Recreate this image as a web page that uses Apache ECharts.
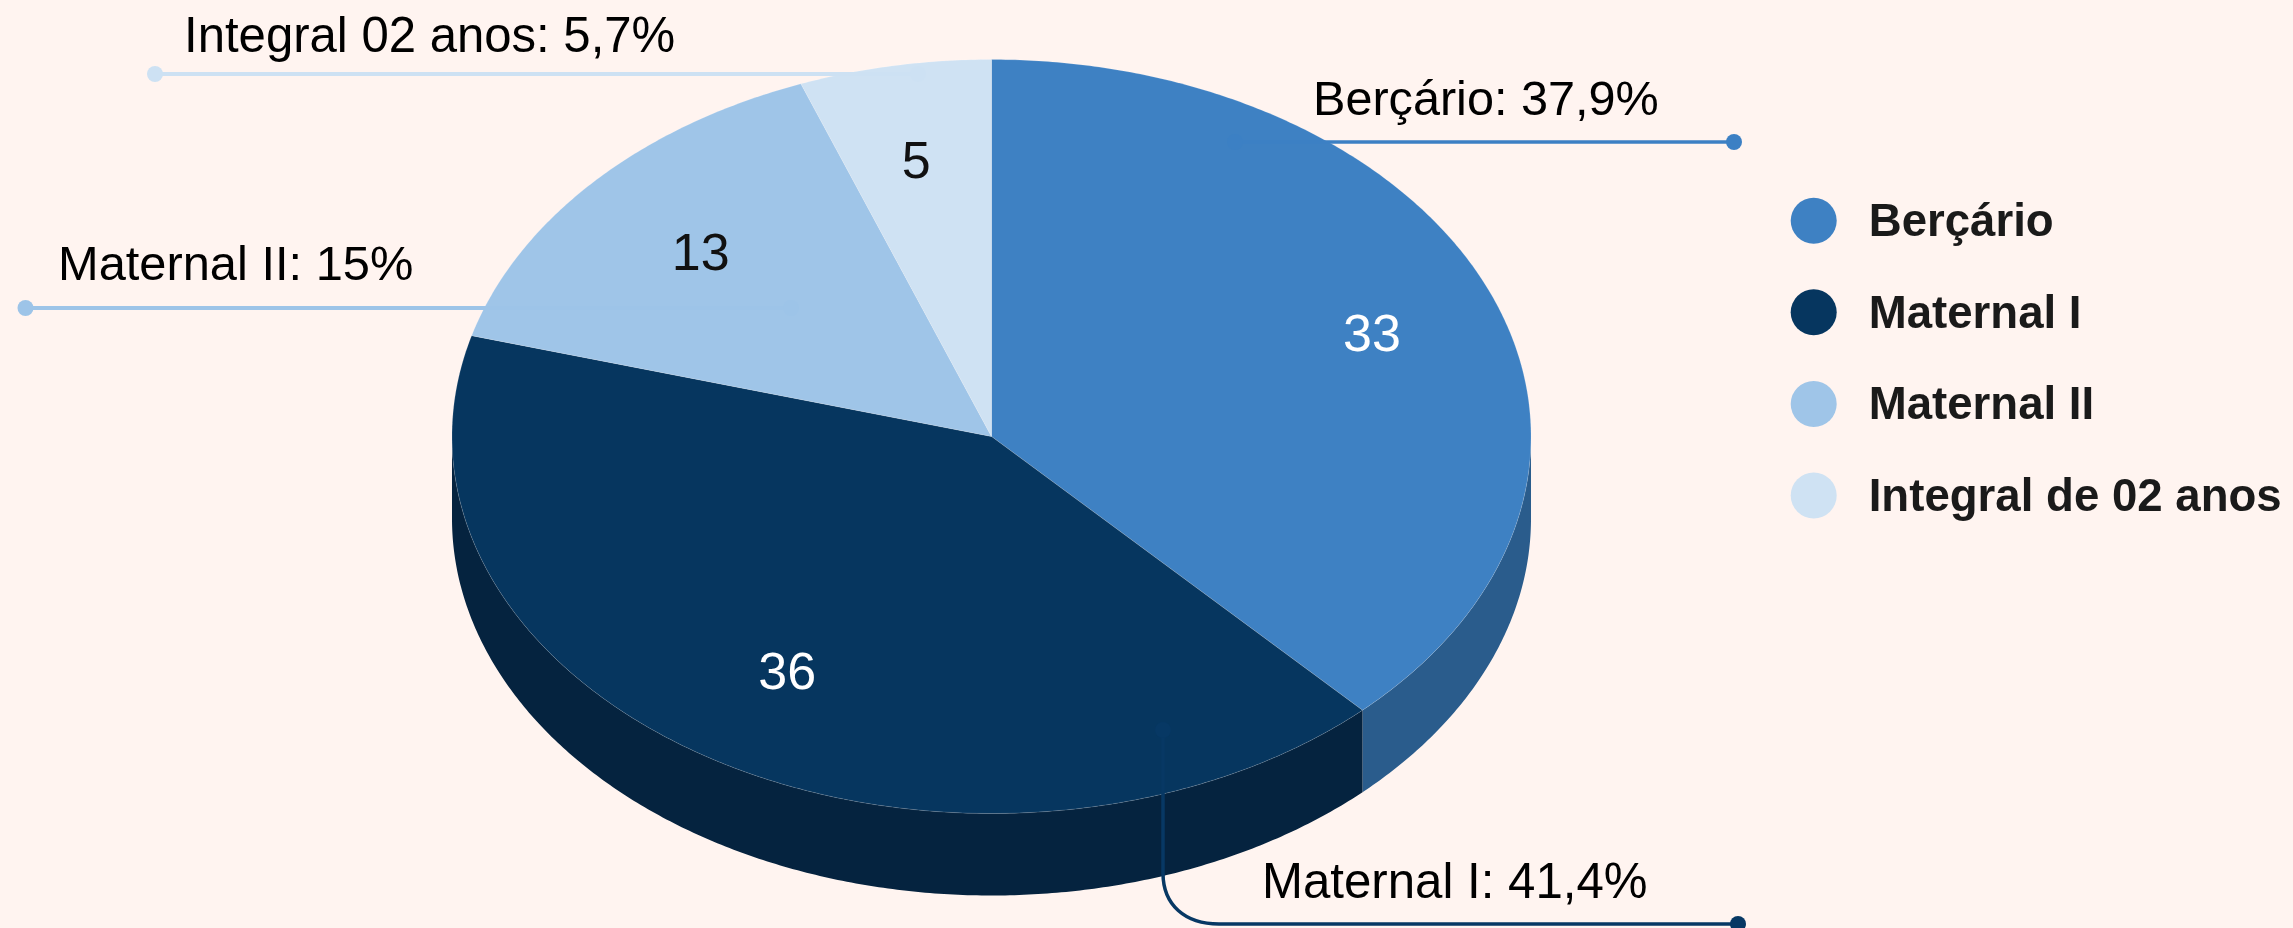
<!DOCTYPE html>
<html>
<head>
<meta charset="utf-8">
<style>
html, body { margin: 0; padding: 0; background: #fff4f0; }
#chart { width: 2293px; height: 928px; }
</style>
<script src="https://cdn.jsdelivr.net/npm/echarts@6/dist/echarts.min.js"></script>
</head>
<body>
<div id="chart"></div>
<script>
// dados
var categories = ['Berçário', 'Maternal I', 'Maternal II', 'Integral de 02 anos'];
var values = [33, 36, 13, 5];
var calloutNames = ['Berçário', 'Maternal I', 'Maternal II', 'Integral 02 anos'];
var calloutPercents = ['37,9%', '41,4%', '15%', '5,7%'];

// cores
var topColors = ['#3e81c3', '#06365f', '#9fc5e8', '#cfe2f3'];
var wallColors = ['#2a5c8c', '#05233f', '#6f8ba2', '#909eaa'];
var lineColors = ['#3c80c4', '#073864', '#9dc4e8', '#cde1f3'];
var valueColors = ['#ffffff', '#ffffff', '#111111', '#111111'];

// geometria da pizza
var cx = 991.5, cy = 436.5, rx = 539.5, ry = 377, depth = 82;
var labelRadius = 0.745;
var valueNudge = [[7, 4], [3, -3], [6, 9], [-3, 3]];

// linhas de chamada: caminho da linha, pontas e posicao do texto
var callouts = [
    { path: 'M1235 142 L1734 142', from: [1235, 142], to: [1734, 142], text: [1313, 114], width: 3.5, size: 48.6 },
    { path: 'M1163 730 L1163 873 C1163 905 1185 924 1219 924 L1738 924', from: [1163, 730], to: [1738, 924], text: [1262, 897], width: 3.5, size: 49.2 },
    { path: 'M791 308 L25.5 308', from: [791, 308], to: [25.5, 308], text: [58, 279], width: 4, size: 48.8 },
    { path: 'M918 74 L155 74', from: [918, 74], to: [155, 74], text: [184, 50.7], width: 4, size: 49.1 }
];

var total = values.reduce(function (a, b) { return a + b; }, 0);

function point(deg, r, dy) {
    var a = deg * Math.PI / 180;
    return [cx + rx * r * Math.sin(a), cy - ry * r * Math.cos(a) + (dy || 0)];
}

function renderSlice(params, api) {
    var i = params.seriesIndex;
    var start = echarts.number.linearMap(api.value(1), [0, total], [0, 360]);
    var end = echarts.number.linearMap(api.value(1) + api.value(0), [0, total], [0, 360]);
    var children = [];

    // parede lateral, so aparece na metade de baixo
    var wallStart = Math.max(start, 90), wallEnd = Math.min(end, 270);
    if (wallEnd > wallStart) {
        var upper = [], lower = [];
        for (var w = wallStart; w < wallEnd; w += 0.5) {
            upper.push(point(w, 1));
            lower.unshift(point(w, 1, depth));
        }
        upper.push(point(wallEnd, 1));
        lower.unshift(point(wallEnd, 1, depth));
        children.push({
            type: 'polygon',
            z2: 1,
            shape: { points: upper.concat(lower) },
            style: { fill: wallColors[i] }
        });
    }

    // face de cima
    var pts = [[cx, cy]];
    for (var d = start; d < end; d += 0.5) {
        pts.push(point(d, 1));
    }
    pts.push(point(end, 1));
    children.push({
        type: 'polygon',
        z2: 2,
        shape: { points: pts },
        style: { fill: topColors[i], stroke: 'rgba(255,255,255,0.14)', lineWidth: 1 }
    });

    // valor dentro da fatia
    var mid = point((start + end) / 2, labelRadius);
    children.push({
        type: 'text',
        z2: 6,
        style: {
            text: String(api.value(0)),
            x: mid[0] + valueNudge[i][0],
            y: mid[1] + valueNudge[i][1],
            align: 'center',
            verticalAlign: 'middle',
            fill: valueColors[i],
            font: '52px "Liberation Sans"'
        }
    });

    // linha de chamada
    var c = callouts[i];
    children.push({
        type: 'path',
        z2: 4,
        shape: { pathData: c.path },
        style: { fill: 'none', stroke: lineColors[i], lineWidth: c.width }
    });
    [c.from, c.to].forEach(function (p) {
        children.push({
            type: 'circle',
            z2: 4,
            shape: { cx: p[0], cy: p[1], r: 8 },
            style: { fill: lineColors[i] }
        });
    });
    children.push({
        type: 'text',
        z2: 6,
        style: {
            text: calloutNames[i] + ': ' + calloutPercents[i],
            x: c.text[0],
            y: c.text[1] - 12.5,
            align: 'left',
            verticalAlign: 'middle',
            fill: '#000000',
            font: c.size + 'px "Liberation Sans"'
        }
    });

    return { type: 'group', children: children };
}

var running = 0;
var series = categories.map(function (name, i) {
    var row = [values[i], running];
    running += values[i];
    return {
        type: 'custom',
        name: name,
        coordinateSystem: 'none',
        renderItem: renderSlice,
        itemStyle: { color: topColors[i] },
        silent: true,
        data: [row]
    };
});

var myChart = echarts.init(document.getElementById('chart'), null, { renderer: 'canvas' });
myChart.setOption({
    animation: false,
    backgroundColor: '#fff4f0',
    color: topColors,
    legend: {
        orient: 'vertical',
        left: 1790.7,
        top: 197.7,
        padding: 0,
        icon: 'circle',
        itemWidth: 46,
        itemHeight: 46,
        itemGap: 42.6,
        selectedMode: false,
        data: categories,
        formatter: '{a|{name}}',
        textStyle: {
            padding: [0, 0, 0, 27],
            rich: {
                a: {
                    fontFamily: 'Liberation Sans',
                    fontWeight: 'bold',
                    fontSize: 45.6,
                    color: '#1a1a1a',
                    padding: [6, 0, 0, 0]
                }
            }
        }
    },
    series: series
});
</script>
</body>
</html>
